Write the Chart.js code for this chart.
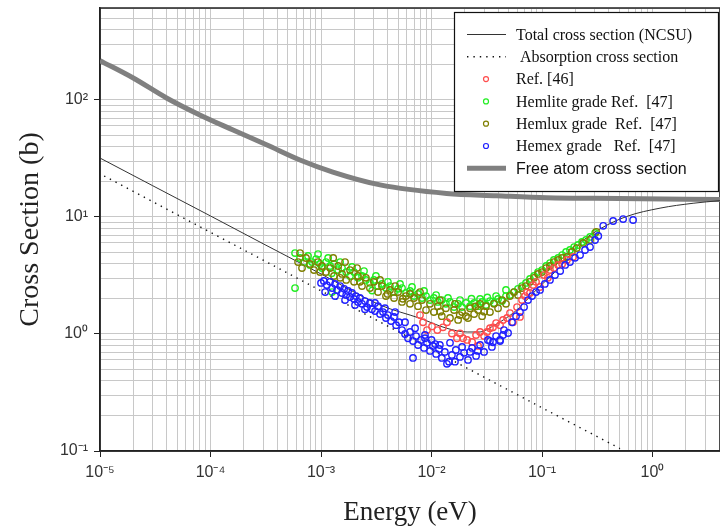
<!DOCTYPE html>
<html>
<head>
<meta charset="utf-8">
<script src="https://cdn.jsdelivr.net/npm/chart.js@4"></script>
<style>body{margin:0;background:#fff}</style>
</head>
<body>
<canvas id="xs" width="720" height="529"></canvas>
<script>
// energies (eV) and cross sections (b)
const totalE = [1e-5, 3e-5, 1e-4, 3e-4, 1e-3, 3.42e-3, 7.9e-3, 1.37e-2, 2.1e-2, 2.75e-2, 3.5e-2, 4.47e-2, 5.9e-2, 8.95e-2, 0.146, 0.221, 0.335, 0.583, 1.17, 2.33, 4.08];
const totalS = [31.9, 18.5, 10.2, 5.9, 3.26, 1.77, 1.36, 1.12, 1.04, 1.04, 1.15, 1.32, 1.6, 2.4, 3.76, 5.96, 7.9, 10.1, 11.9, 13.1, 13.8];

const absE = [1.09e-5, 1e-4, 1e-3, 1e-2, 0.1, 0.508];
const absS = [22.4, 7.4, 2.34, 0.74, 0.234, 0.105];

const freeE = [1e-5, 2e-5, 4e-5, 8e-5, 1.6e-4, 3.25e-4, 6.45e-4, 1.28e-3, 3.42e-3, 1.37e-2, 3.88e-2, 0.11, 0.5, 4.08];
const freeS = [217, 154, 104, 74.5, 55.4, 41.2, 30.7, 24.2, 18.8, 15.9, 15.2, 14.6, 14.4, 14.1];

// [E, sigma]
const ref46 = [
  [7.87e-3,1.45],[8.38e-3,1.26],[9.11e-3,1.08],[1.01e-2,1.16],[1.13e-2,1.08],[1.27e-2,1.14],[1.38e-2,1.26],
  [1.53e-2,1.01],[1.70e-2,0.92],[1.81e-2,1.01],[1.93e-2,0.92],[2.10e-2,0.889],[2.33e-2,0.855],[2.53e-2,0.98],
  [2.64e-2,0.79],[2.75e-2,1.04],[2.99e-2,0.96],[3.18e-2,1.04],[3.38e-2,1.12],[3.60e-2,1.14],[3.84e-2,1.24],
  [4.17e-2,1.19],[4.44e-2,1.32],[4.83e-2,1.37],[5.13e-2,1.51],[5.46e-2,1.26],[5.94e-2,1.70],[6.32e-2,1.40],
  [6.59e-2,1.95],[7.02e-2,2.11],[7.32e-2,2.28],[7.78e-2,2.24],[8.30e-2,2.62],[8.83e-2,2.79],[9.59e-2,2.52],
  [0.104,3.19],[0.113,3.02],[0.118,3.52],[0.128,3.66],[0.140,3.89],[0.152,3.97],[0.168,4.29],[0.191,4.55]
];

const hemlite = [
  [5.82e-4,4.92],[5.82e-4,2.47],[6.46e-4,4.46],[7.02e-4,4.12],[7.63e-4,4.64],[8.30e-4,4.12],[9.02e-4,4.37],
  [9.80e-4,3.97],[1.02e-3,3.66],[1.11e-3,4.12],[1.21e-3,3.81],[1.26e-3,2.28],[1.31e-3,3.97],[1.43e-3,3.52],
  [1.55e-3,3.66],[1.69e-3,3.38],[1.83e-3,3.13],[1.99e-3,3.38],[2.16e-3,3.02],[2.35e-3,3.13],[2.55e-3,2.90],
  [2.77e-3,2.73],[3.01e-3,2.90],[3.28e-3,2.57],[3.56e-3,2.68],[3.87e-3,2.47],[4.21e-3,2.57],[4.58e-3,2.28],
  [4.98e-3,2.43],[5.41e-3,2.47],[5.88e-3,2.24],[6.39e-3,2.33],[6.95e-3,2.11],[7.55e-3,2.20],[8.21e-3,2.03],
  [8.92e-3,2.11],[9.69e-3,1.95],[1.05e-2,2.03],[1.14e-2,1.88],[1.24e-2,1.95],[1.35e-2,1.81],[1.47e-2,1.88],
  [1.60e-2,1.70],[1.74e-2,1.81],[1.89e-2,1.70],[2.05e-2,1.84],[2.23e-2,1.73],[2.43e-2,1.84],[2.64e-2,1.73],
  [2.87e-2,1.88],[3.11e-2,1.77],[3.38e-2,1.91],[3.68e-2,1.84],[4.00e-2,1.99],[4.35e-2,1.91],[4.72e-2,2.11],
  [5.13e-2,2.15],[5.58e-2,2.28],[6.06e-2,2.43],[6.59e-2,2.57],[7.16e-2,2.73],[7.78e-2,2.95],[8.46e-2,3.13],
  [9.20e-2,3.38],[0.100,3.52],[0.109,3.81],[0.118,4.04],[0.128,4.29],[0.140,4.46],[0.152,4.73],[0.165,5.02],
  [0.179,5.22],[0.195,5.53],[0.212,5.76],[0.230,6.11],[0.250,6.36],[0.272,6.75],[0.302,7.30],
  [7.94e-4,3.89],[9.4e-4,4.82],[1.16e-3,4.46],[1.49e-3,4.12],[1.91e-3,3.74],[2.45e-3,3.45],[3.14e-3,3.13],
  [4.03e-3,2.79],[5.19e-3,2.68],[6.66e-3,2.52],[8.56e-3,2.33],[1.10e-2,2.15],[1.41e-2,2.03],[1.81e-2,1.95],
  [2.75e-2,1.99],[3.84e-2,2.11],[4.72e-2,2.38],[2.3e-2,2.0],[3.2e-2,2.05],[1.25e-3,3.3],[2.9e-3,2.35]
];

const hemlux = [
  [6.20e-4,4.12],[6.73e-4,3.66],[7.32e-4,4.46],[7.94e-4,3.97],[8.64e-4,3.52],[9.39e-4,4.12],[1.02e-3,3.81],
  [1.11e-3,3.38],[1.21e-3,3.66],[1.31e-3,3.13],[1.43e-3,3.81],[1.55e-3,3.26],[1.69e-3,2.90],[1.83e-3,3.52],
  [1.99e-3,2.79],[2.16e-3,3.13],[2.35e-3,2.57],[2.55e-3,3.02],[2.77e-3,2.47],[3.01e-3,2.79],[3.28e-3,2.28],
  [3.56e-3,2.57],[3.87e-3,2.11],[4.21e-3,2.38],[4.58e-3,2.03],[4.98e-3,2.28],[5.41e-3,1.88],[5.88e-3,2.11],
  [6.39e-3,1.81],[6.95e-3,2.03],[7.55e-3,1.73],[8.21e-3,1.95],[8.92e-3,1.60],[9.69e-3,1.81],[1.05e-2,1.54],
  [1.14e-2,1.73],[1.24e-2,1.42],[1.35e-2,1.66],[1.47e-2,1.37],[1.60e-2,1.60],[1.74e-2,1.32],[1.89e-2,1.54],
  [2.05e-2,1.42],[2.23e-2,1.66],[2.43e-2,1.48],[2.64e-2,1.60],[2.87e-2,1.42],[3.11e-2,1.73],[3.38e-2,1.54],
  [3.68e-2,1.81],[4.00e-2,1.66],[4.35e-2,1.95],[4.72e-2,1.81],[5.13e-2,2.11],[5.58e-2,2.28],[6.06e-2,2.15],
  [6.59e-2,2.47],[7.16e-2,2.57],[7.78e-2,2.79],[8.46e-2,3.02],[9.20e-2,3.26],[0.100,3.38],[0.109,3.66],
  [0.118,3.81],[0.128,4.12],[0.140,4.29],[0.152,4.46],[0.168,4.55],[0.186,5.02],[0.206,5.42],[0.236,6.00],
  [0.272,6.36],[0.309,7.46],
  [6.46e-4,4.92],[1.29e-3,4.46],[1.65e-3,4.12],[2.12e-3,3.66],[9.8e-4,3.38],[1.49e-3,3.02],[2.25e-3,2.79],
  [3.42e-3,2.90],[4.68e-3,2.57],[6.39e-3,2.20],[7.87e-3,2.28],[1.19e-2,1.95],[1.63e-2,1.81],[2.14e-2,1.37],
  [2.75e-2,1.81],[1.2e-2,1.55],[1.8e-2,1.45],[2.5e-2,1.72],[3.0e-2,1.55],[5.5e-3,2.0],[4.0e-3,2.2]
];

const hemex = [
  [1.00e-3,2.73],[1.06e-3,2.84],[1.13e-3,2.62],[1.21e-3,2.79],[1.26e-3,2.47],[1.34e-3,2.68],[1.40e-3,2.38],
  [1.49e-3,2.57],[1.55e-3,2.24],[1.62e-3,2.43],[1.69e-3,2.15],[1.76e-3,2.33],[1.83e-3,2.07],[1.91e-3,2.24],
  [1.99e-3,1.99],[2.07e-3,2.11],[2.16e-3,1.88],[2.25e-3,2.03],[2.35e-3,1.81],[2.50e-3,1.91],[2.61e-3,1.70],
  [2.77e-3,1.84],[2.89e-3,1.63],[3.08e-3,1.57],[3.28e-3,1.73],[3.42e-3,1.48],[3.64e-3,1.54],[3.87e-3,1.37],
  [4.03e-3,1.45],[4.30e-3,1.29],[4.58e-3,1.40],[4.78e-3,1.19],[5.08e-3,1.26],[5.41e-3,1.08],[5.76e-3,1.00],
  [6.13e-3,0.92],[6.39e-3,1.04],[6.80e-3,0.87],[7.25e-3,0.96],[7.55e-3,0.805],[8.04e-3,0.889],[8.56e-3,0.76],
  [9.11e-3,0.84],[9.69e-3,0.717],[1.03e-2,0.79],[1.10e-2,0.675],[1.17e-2,0.745],[1.24e-2,0.624],[1.32e-2,0.703],
  [1.44e-2,0.58],[1.53e-2,0.662],[1.66e-2,0.73],[1.81e-2,0.637],[1.97e-2,0.69],[2.14e-2,0.60],[2.33e-2,0.76],
  [2.53e-2,0.65],[2.75e-2,0.805],[2.99e-2,0.703],[3.24e-2,0.889],[3.52e-2,0.775],[3.84e-2,0.96],[4.17e-2,0.889],
  [4.53e-2,1.08],[4.93e-2,1.02],[5.35e-2,1.26],[5.82e-2,1.42],[6.32e-2,1.54],[6.88e-2,1.70],[7.47e-2,1.95],
  [8.12e-2,2.11],[8.83e-2,2.28],[9.59e-2,2.38],[0.106,2.68],[0.118,2.90],[0.131,3.19],[0.146,3.45],
  [0.162,3.89],[0.179,4.12],[0.199,4.48],[0.221,4.73],[0.245,5.22],[0.272,5.53],[0.302,6.36],[0.323,6.88],
  [0.358,8.40],[0.440,9.24],[0.542,9.60],[0.667,9.42],
  [6.80e-3,0.624],[1.38e-2,0.556],[1.63e-2,0.58],[8.73e-3,0.98],[1.0e-2,0.889],[1.19e-2,0.805],[1.47e-2,0.84],
  [1.89e-2,0.775],[2.23e-2,0.703],[2.62e-2,0.717],[3.38e-2,0.87],[3.60e-2,0.85],[4.17e-2,0.87],[4.44e-2,0.98],
  [1.09e-3,2.28],[1.34e-3,2.11],[1.65e-3,1.95],[2.03e-3,1.77],[2.50e-3,1.63],[3.08e-3,1.84],[3.79e-3,1.66],
  [4.68e-3,1.54],[5.76e-3,1.26],[7.10e-3,1.12],[8.73e-3,0.92],[1.08e-2,0.82]
];

const xMajor = [1e-5, 1e-4, 1e-3, 1e-2, 1e-1, 1];
const xTickLabels = ['10⁻⁵', '10⁻⁴', '10⁻³', '10⁻²', '10⁻¹', '10⁰'];
const yMajor = [0.1, 1, 10, 100];
const yTickLabels = ['10⁻¹', '10⁰', '10¹', '10²'];

function pairs(xs, ys) {
  return xs.map((x, i) => ({ x: x, y: ys[i] }));
}
function pts(arr) {
  return arr.map((p) => ({ x: p[0], y: p[1] }));
}

// 1..9 x 10^n, for the grid
function logTicks(min, max) {
  const out = [];
  for (let e = Math.floor(Math.log10(min)); e <= Math.ceil(Math.log10(max)); e++) {
    for (let k = 1; k < 10; k++) {
      const v = k * Math.pow(10, e);
      if (v >= min * 0.999 && v <= max * 1.001) out.push({ value: v });
    }
  }
  return out;
}
function majorLabel(value, majors, labels) {
  for (let i = 0; i < majors.length; i++) {
    if (Math.abs(value / majors[i] - 1) < 1e-6) return labels[i];
  }
  return '';
}
function isMajor(value) {
  const l = Math.log10(value);
  return Math.abs(l - Math.round(l)) < 1e-6;
}

const serif = '"Liberation Serif", "Times New Roman", serif';
const sans = '"Liberation Sans", Arial, sans-serif';

function ring(color, data, order) {
  return {
    type: 'scatter',
    data: pts(data),
    borderColor: color,
    backgroundColor: 'rgba(0,0,0,0)',
    pointRadius: 3.2,
    pointBorderWidth: 1.4,
    pointHoverRadius: 3.2,
    order: order,
  };
}

const datasets = [
  {
    type: 'line', label: 'Total cross section (NCSU)', data: pairs(totalE, totalS),
    borderColor: '#333', borderWidth: 1, pointRadius: 0, cubicInterpolationMode: 'monotone', order: 6,
  },
  {
    type: 'line', label: ' Absorption cross section', data: pairs(absE, absS),
    borderColor: '#111', borderWidth: 1.4, borderDash: [1.4, 5], pointRadius: 0, order: 7,
  },
  Object.assign(ring('#ff4d4d', ref46, 2), { label: 'Ref. [46]' }),
  Object.assign(ring('#22ee22', hemlite, 4), { label: 'Hemlite grade Ref.  [47]' }),
  Object.assign(ring('#7f7f00', hemlux, 3), { label: 'Hemlux grade  Ref.  [47]' }),
  Object.assign(ring('#2020ff', hemex, 1), { label: 'Hemex grade   Ref.  [47]' }),
  {
    type: 'line', label: 'Free atom cross section', data: pairs(freeE, freeS),
    borderColor: '#808080', borderWidth: 5, pointRadius: 0, cubicInterpolationMode: 'monotone', order: 8,
    legendFont: '16px ' + sans,
  },
];

// boxed legend in the upper right corner
const boxLegend = {
  id: 'boxLegend',
  afterDraw(chart) {
    const c = chart.ctx;
    const x0 = 454, y0 = 12, w = 264, h = 179;
    c.save();
    c.fillStyle = '#fff';
    c.fillRect(x0, y0, w, h);
    c.strokeStyle = '#111';
    c.lineWidth = 1.2;
    c.strokeRect(x0 + 0.5, y0 + 0.5, w, h);
    chart.data.datasets.forEach((ds, i) => {
      const y = 34.5 + i * 22.3;
      if (ds.type === 'line') {
        c.strokeStyle = ds.borderColor;
        c.lineWidth = ds.borderWidth;
        c.setLineDash(ds.borderDash || []);
        c.beginPath();
        c.moveTo(467, y);
        c.lineTo(506, y);
        c.stroke();
        c.setLineDash([]);
      } else {
        c.strokeStyle = ds.borderColor;
        c.lineWidth = 1.2;
        c.beginPath();
        c.arc(486, y, 2.5, 0, Math.PI * 2);
        c.stroke();
      }
      c.fillStyle = '#111';
      c.font = ds.legendFont || '16px ' + serif;
      c.textBaseline = 'middle';
      c.fillText(ds.label, 516, y + 1);
    });
    c.restore();
  },
};

// frame round the plot
const frame = {
  id: 'frame',
  beforeDatasetsDraw(chart) {
    const a = chart.chartArea;
    const c = chart.ctx;
    c.save();
    c.strokeStyle = '#222';
    c.lineWidth = 1.5;
    c.strokeRect(a.left, a.top, a.right - a.left, a.bottom - a.top);
    c.restore();
  },
};

new Chart(document.getElementById('xs'), {
  data: { datasets: datasets },
  options: {
    responsive: false,
    animation: false,
    devicePixelRatio: 1,
    layout: { autoPadding: false, padding: { top: 8, right: 0, left: 0, bottom: 0 } },
    plugins: { legend: { display: false }, tooltip: { enabled: false } },
    scales: {
      x: {
        type: 'logarithmic',
        min: 1e-5,
        max: 4.08,
        afterBuildTicks: (s) => { s.ticks = logTicks(1e-5, 4.08); },
        afterFit: (s) => { s.height = 78; s.paddingLeft = 0; s.paddingRight = 0; },
        grid: {
          color: '#c8c8c8',
          lineWidth: 1,
          tickLength: 6,
          tickColor: (ctx) => (ctx.tick && isMajor(ctx.tick.value) ? '#222' : 'rgba(0,0,0,0)'),
        },
        border: { color: '#222', width: 1.5 },
        ticks: {
          autoSkip: false,
          maxRotation: 0,
          padding: 6,
          color: '#333',
          font: { family: sans, size: 16 },
          callback: (v) => majorLabel(v, xMajor, xTickLabels),
        },
        title: {
          display: true,
          text: 'Energy (eV)',
          color: '#222',
          font: { family: serif, size: 27 },
          padding: { top: 0, bottom: 0 },
        },
      },
      y: {
        type: 'logarithmic',
        min: 0.1,
        max: 611,
        afterBuildTicks: (s) => { s.ticks = logTicks(0.1, 611); },
        afterFit: (s) => { s.width = 100; s.paddingTop = 0; s.paddingBottom = 0; },
        grid: {
          color: '#c8c8c8',
          lineWidth: 1,
          tickLength: 6,
          tickColor: (ctx) => (ctx.tick && isMajor(ctx.tick.value) ? '#222' : 'rgba(0,0,0,0)'),
        },
        border: { color: '#222', width: 1.5 },
        ticks: {
          autoSkip: false,
          padding: 6,
          color: '#333',
          font: { family: sans, size: 16 },
          callback: (v) => majorLabel(v, yMajor, yTickLabels),
        },
        title: {
          display: true,
          text: 'Cross Section (b)',
          color: '#222',
          font: { family: serif, size: 28 },
          padding: { top: 14, bottom: 0 },
        },
      },
    },
  },
  plugins: [frame, boxLegend],
});
</script>
</body>
</html>
